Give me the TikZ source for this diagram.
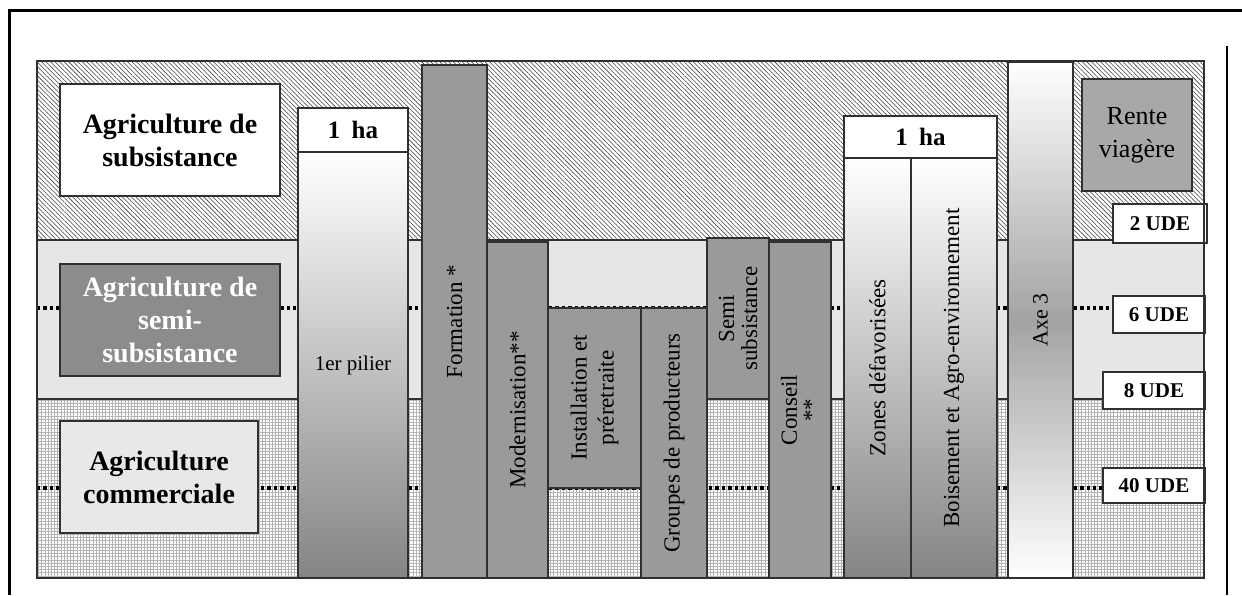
\documentclass[tikz,border=0pt]{standalone}
\usepackage{fontspec}
\setmainfont{Liberation Serif}
\usetikzlibrary{patterns.meta}
\definecolor{bandgray}{HTML}{E6E6E6}
\definecolor{colgray}{HTML}{9A9A9A}
\definecolor{semigray}{HTML}{8C8C8C}
\definecolor{commgray}{HTML}{E8E8E8}
\definecolor{rentegray}{HTML}{A8A8A8}
\definecolor{edge}{HTML}{303030}
\newcommand\myfs[2]{\fontsize{#1}{#2}\selectfont}
\begin{document}
\begin{tikzpicture}[x=1pt,y=-1pt,
  box/.style={draw=edge, line width=1.1pt, inner sep=0pt, outer sep=0pt, rectangle},
  col/.style={box, fill=colgray},
  lefttxt/.style={box, align=center, font=\myfs{28}{33}\bfseries},
  hatxt/.style={box, fill=white, font=\myfs{25}{28}\bfseries},
  udebox/.style={box, fill=white, font=\myfs{21}{24}\bfseries},
  coltxt/.style={rotate=90, align=center, inner sep=0pt, font=\myfs{23}{25}},
  fadecol/.style={box, top color=white, bottom color=black!48},
  dotline/.style={line width=3.6pt, dash pattern=on 3.4pt off 3pt, black},
  bandline/.style={draw=edge, line width=1.1pt},
  frameline/.style={line width=3pt, black}
]
\useasboundingbox (0,0) rectangle (1242,595);
\fill[white] (0,0) rectangle (1242,595);

% bands
\fill[pattern={Lines[angle=-45,distance=3.2pt,line width=0.55pt]}, pattern color=black!75] (37,61) rectangle (1204,240);
\fill[bandgray] (37,240) rectangle (1204,399);
\fill[white] (37,399) rectangle (1204,578);
\fill[pattern={Hatch[angle=0,distance=3.2pt,line width=0.35pt]}, pattern color=black!30] (37,399) rectangle (1204,578);
\draw[bandline] (37,240) -- (1204,240);
\draw[bandline] (37,399) -- (1204,399);

% dotted level lines
\coordinate (d6a) at (37,308);
\coordinate (d6b) at (1113,308);
\coordinate (d40a) at (37,488);
\coordinate (d40b) at (1103,488);
\draw[dotline] (d6a) -- (d6b);
\draw[dotline] (d40a) -- (d40b);

% left labels
\node[lefttxt, fill=white, minimum width=220pt, minimum height=112pt] (subs) at (170,140) {Agriculture de\\subsistance};
\node[lefttxt, fill=semigray, text=white, minimum width=220pt, minimum height=112pt] (semi) at (170,320) {Agriculture de\\semi-\\subsistance};
\node[lefttxt, fill=commgray, minimum width=198pt, minimum height=112pt] (comm) at (159,477) {Agriculture\\commerciale};

% first pillar
\node[hatxt, minimum width=110pt, minimum height=44pt] (ha1) at (353,130) {1\hspace{0.45em}ha};
\node[fadecol, minimum width=110pt, minimum height=426pt] (pilier) at (353,365) {};
\node[inner sep=0pt, font=\myfs{21}{24}] (pilier-t) at (pilier.center) {1er pilier};

% grey columns
\node[col, minimum width=65pt, minimum height=513pt] (form) at (454.5,321.5) {};
\node[coltxt] (form-t) at (form.center) {Formation *};
\node[col, minimum width=61pt, minimum height=336pt] (modern) at (517.5,410) {};
\node[coltxt] (modern-t) at (modern.center) {Modernisation**};
\node[col, minimum width=93pt, minimum height=180pt] (inst) at (594.5,398) {};
\node[coltxt, font=\myfs{23}{27}] (inst-t) at (inst.center) {Installation et\\préretraite};
\node[col, minimum width=66pt, minimum height=270pt] (group) at (674,443) {};
\node[coltxt] (group-t) at (group.center) {Groupes de producteurs};
\node[col, minimum width=62pt, minimum height=161pt] (semisub) at (738,318.5) {};
\node[coltxt, font=\myfs{23}{23}] (semisub-t) at (semisub.center) {Semi\\subsistance};
\node[col, minimum width=62pt, minimum height=336pt] (conseil) at (800,410) {};
\node[coltxt, font=\myfs{23}{22}] (conseil-t) at (conseil.center) {Conseil\\**};

% second pillar axis 2
\node[hatxt, minimum width=153pt, minimum height=42pt] (ha2) at (920.5,137) {1\hspace{0.45em}ha};
\node[fadecol, minimum width=67pt, minimum height=420pt] (zones) at (877.5,368) {};
\node[coltxt] (zones-t) at (zones.center) {Zones défavorisées};
\node[fadecol, minimum width=86pt, minimum height=420pt] (bois) at (954,368) {};
\node[coltxt] (bois-t) at (bois.center) {Boisement et Agro-environnement};

% axis 3
\node[box, top color=white, bottom color=white, middle color=black!36, minimum width=65pt, minimum height=516pt] (axe) at (1040.5,320) {};
\node[coltxt, font=\myfs{22}{24}] (axe-t) at (axe.center) {Axe 3};

% right side
\node[box, fill=rentegray, align=center, font=\myfs{26}{33}, minimum width=110pt, minimum height=112pt] (rente) at (1137,135) {Rente\\viagère};
\node[udebox, minimum width=94pt, minimum height=39pt] (ude2) at (1160,223.5) {2 UDE};
\node[udebox, minimum width=92pt, minimum height=37pt] (ude6) at (1159,314.5) {6 UDE};
\node[udebox, minimum width=102pt, minimum height=37pt] (ude8) at (1154,390.5) {8 UDE};
\node[udebox, minimum width=102pt, minimum height=35pt] (ude40) at (1154,485.5) {40 UDE};

% panel outline
\draw[bandline] (37,61) rectangle (1204,578);

% page frame
\draw[frameline] (8,10) -- (1242,10);
\draw[frameline] (9.5,10) -- (9.5,595);
\draw[line width=1.5pt, black] (1227,46) -- (1227,595);
\end{tikzpicture}
\end{document}
